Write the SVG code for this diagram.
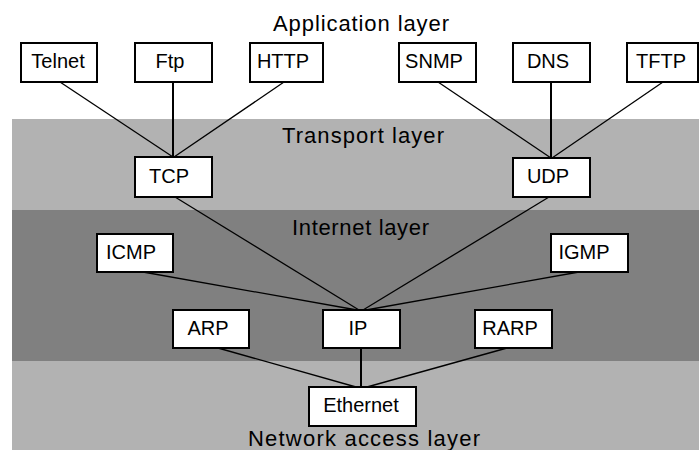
<svg xmlns="http://www.w3.org/2000/svg" width="699" height="450" viewBox="0 0 699 450">
  <style>
    .box rect { fill: #ffffff; stroke: #000000; stroke-width: 2; }
    .box text { font-family: "Liberation Sans", Arial, sans-serif; font-size: 20px; fill: #000000; text-anchor: middle; }
    .layer { font-family: "Liberation Sans", Arial, sans-serif; font-size: 22px; fill: #000000; }
    .links line { stroke: #000000; stroke-width: 1.3; }
    .links line.v { stroke-width: 2; }
  </style>

  <!-- background and layer bands -->
  <rect x="0" y="0" width="699" height="450" fill="#ffffff"/>
  <rect x="12" y="119" width="687" height="91" fill="#b2b2b2"/>
  <rect x="12" y="210" width="687" height="151" fill="#808080"/>
  <rect x="12" y="361" width="687" height="89" fill="#b2b2b2"/>

  <!-- layer titles -->
  <text class="layer" x="273" y="31" textLength="176" lengthAdjust="spacing">Application layer</text>
  <text class="layer" x="282" y="143" textLength="162" lengthAdjust="spacing">Transport layer</text>
  <text class="layer" x="292" y="235" textLength="137" lengthAdjust="spacing">Internet layer</text>
  <text class="layer" x="248" y="446" textLength="232" lengthAdjust="spacing">Network access layer</text>

  <!-- connectors -->
  <g id="connectors" class="links">
    <line x1="60" y1="82" x2="173" y2="157"/>
    <line class="v" x1="173" y1="82" x2="173" y2="157"/>
    <line x1="284" y1="82" x2="174" y2="157"/>
    <line x1="438" y1="82" x2="551" y2="158"/>
    <line class="v" x1="551" y1="82" x2="551" y2="158"/>
    <line x1="663" y1="82" x2="552" y2="158"/>
    <line x1="175" y1="197" x2="359" y2="310"/>
    <line x1="143" y1="272" x2="357" y2="310"/>
    <line x1="549" y1="197" x2="363" y2="310"/>
    <line x1="579" y1="272" x2="366" y2="310"/>
    <line x1="218" y1="348" x2="356" y2="387"/>
    <line class="v" x1="361" y1="348" x2="361" y2="387"/>
    <line x1="507" y1="348" x2="367" y2="387"/>
  </g>

  <!-- application layer -->
  <g id="telnet" class="box"><rect x="21" y="43" width="76" height="39"/><text x="58" y="68">Telnet</text></g>
  <g id="ftp" class="box"><rect x="135" y="43" width="77" height="39"/><text x="170" y="68">Ftp</text></g>
  <g id="http" class="box"><rect x="250" y="43" width="73" height="39"/><text x="283" y="68">HTTP</text></g>
  <g id="snmp" class="box"><rect x="399" y="43" width="77" height="39"/><text x="434" y="68">SNMP</text></g>
  <g id="dns" class="box"><rect x="513" y="43" width="77" height="39"/><text x="548" y="68">DNS</text></g>
  <g id="tftp" class="box"><rect x="627" y="43" width="71" height="39"/><text x="661" y="68">TFTP</text></g>

  <!-- transport layer -->
  <g id="tcp" class="box"><rect x="135" y="157" width="77" height="40"/><text x="169" y="183">TCP</text></g>
  <g id="udp" class="box"><rect x="513" y="158" width="77" height="39"/><text x="548" y="183">UDP</text></g>

  <!-- internet layer -->
  <g id="icmp" class="box"><rect x="97" y="234" width="76" height="38"/><text x="131" y="259">ICMP</text></g>
  <g id="igmp" class="box"><rect x="551" y="234" width="77" height="38"/><text x="584" y="259">IGMP</text></g>
  <g id="arp" class="box"><rect x="173" y="310" width="76" height="38"/><text x="208" y="335">ARP</text></g>
  <g id="ip" class="box"><rect x="323" y="310" width="77" height="38"/><text x="358" y="335">IP</text></g>
  <g id="rarp" class="box"><rect x="475" y="310" width="77" height="38"/><text x="510" y="335">RARP</text></g>

  <!-- network access layer -->
  <g id="ethernet" class="box"><rect x="309" y="387" width="107" height="39"/><text x="361" y="412">Ethernet</text></g>
</svg>
